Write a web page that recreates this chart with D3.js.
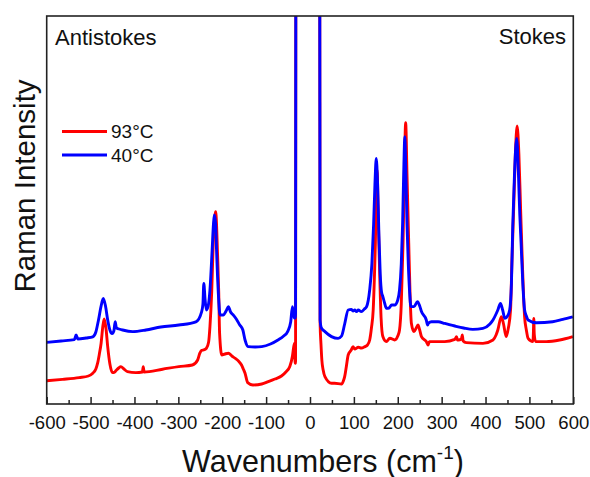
<!DOCTYPE html>
<html>
<head>
<meta charset="utf-8">
<script src="https://cdn.jsdelivr.net/npm/d3@7"></script>
<style>
  html, body { margin: 0; padding: 0; background: #fff; }
  svg { display: block; }
  text { font-family: "Liberation Sans", Arial, sans-serif; fill: #111; }
</style>
</head>
<body>
<svg id="chart" width="590" height="477"></svg>
<script>
// ---- data (wavenumber in cm^-1, intensity in arbitrary units) ----
const seriesNames = ["93°C", "40°C"];
const seriesColors = ["#ff0000", "#0000ff"];

const redX = [-600,-564,-526,-505,-495,-488,-484,-480,-476,-472,-469,-465,-461,-456,-450,-446,-442,-436,-431,-424,-416,-397,-382,-380,-378,-336,-299,-268,-256,-251,-247,-243,-236,-231,-228,-224,-221,-218,-215,-213,-211,-208,-206,-201,-194,-186,-178,-171,-163,-156,-152,-148,-142,-130,-110,-95,-80,-65,-55,-46,-40,-37,-35,-34,-33,-32,
  22,23,25,27,30,34,49,56,72,76,79,83,87,94,98,102,110,117,125,131,136,140,144,147,149,151,153,155,157,159,162,166,174,182,193,200,204,208,212,215,218,221,225,228,231,237,242,246,250,254,265,269,272,277,307,330,334,336,338,345,347,349,356,394,417,424,428,436,441,447,452,457,460,464,468,472,476,480,484,489,493,497,508,509,510,511,514,538,569,599];
const redY = [116,123,132,140,154,175,204,250,304,390,425,380,287,200,157,158,167,180,187,175,162,157,160,187,160,174,187,195,220,254,268,270,279,310,387,560,770,900,962,900,770,560,354,245,250,254,240,229,215,195,175,154,107,95,100,112,125,140,160,187,240,287,304,204,204,2600,
  2600,405,300,220,170,137,104,104,100,115,137,190,245,270,287,275,284,280,287,295,320,380,470,650,805,1050,1170,1000,800,637,430,337,312,329,320,340,370,500,805,1150,1407,1150,805,550,404,362,380,395,370,337,312,295,312,312,312,323,337,320,320,325,345,315,307,303,320,345,370,437,400,337,380,470,700,970,1250,1390,1250,970,700,437,370,328,312,350,428,350,312,312,320,337];

const blueX = [-600,-567,-537,-533,-529,-510,-495,-488,-482,-476,-471,-466,-461,-456,-451,-447,-444,-441,-435,-427,-404,-374,-340,-299,-260,-247,-244,-242,-239,-236,-232,-228,-223,-220,-218,-215,-213,-208,-205,-198,-190,-186,-181,-175,-168,-160,-153,-148,-141,-125,-110,-90,-73,-60,-51,-44,-40,-36,-33,-32,
  22,23,26,34,49,64,72,79,87,94,98,102,106,110,117,124,129,136,141,145,148,151,154,157,160,163,166,170,174,180,186,193,200,204,208,211,214,216,218,221,224,227,230,237,245,250,254,265,268,270,277,292,307,330,350,371,394,410,417,424,428,434,439,444,450,455,459,462,466,471,475,478,481,485,489,493,497,516,553,576,599];
const blueY = [308,315,322,345,325,330,336,360,420,490,528,490,420,370,352,365,411,380,375,370,362,370,385,395,411,461,500,603,520,470,490,570,770,900,945,900,770,520,445,445,470,487,460,445,425,395,370,320,287,285,287,300,320,340,362,410,487,430,430,2600,
  2600,420,380,362,337,328,340,400,470,473,465,470,462,470,462,475,487,570,700,900,1100,1228,1100,850,650,560,537,505,478,480,495,495,520,570,700,900,1200,1336,1200,900,700,560,487,487,512,490,462,420,395,405,411,411,403,390,380,373,378,400,420,450,470,503,470,428,440,470,600,886,1150,1328,1150,950,805,600,470,440,420,406,411,423,436];

const xMajorTicks = [-600,-500,-400,-300,-200,-100,0,100,200,300,400,500,600];
const xMinorTicks = [-550,-450,-350,-250,-150,-50,50,150,250,350,450,550];

// ---- layout ----
const L = 46.7, R = 573.3, T = 16, B = 404;
const svg = d3.select("#chart");
const x = d3.scaleLinear().domain([-600, 600]).range([L, R]);
const y = d3.scaleLinear().domain([0, 1940]).range([B, T]);

svg.append("defs").append("clipPath").attr("id", "clip")
  .append("rect").attr("x", L).attr("y", T).attr("width", R - L).attr("height", B - T);

const line = d3.line().x(d => x(d[0])).y(d => y(d[1])).curve(d3.curveMonotoneX);
const series = [d3.zip(redX, redY), d3.zip(blueX, blueY)];

const plot = svg.append("g").attr("clip-path", "url(#clip)");
series.forEach((s, i) => {
  plot.append("path").datum(s)
    .attr("d", line)
    .attr("fill", "none")
    .attr("stroke", seriesColors[i])
    .attr("stroke-width", 2.9)
    .attr("stroke-linejoin", "round");
});

// ticks (inside)
const axMaj = d3.axisBottom(x).tickValues(xMajorTicks).tickSizeInner(-7).tickSizeOuter(0)
  .tickPadding(12).tickFormat(d => String(d));
const gMaj = svg.append("g").attr("transform", `translate(0,${B})`).call(axMaj);
gMaj.select(".domain").remove();
gMaj.selectAll("line").attr("stroke", "#222").attr("stroke-width", 1.5);
gMaj.selectAll("text").attr("font-size", 18.5).attr("fill", "#111")
  .style("font-family", '"Liberation Sans", Arial, sans-serif');

const axMin = d3.axisBottom(x).tickValues(xMinorTicks).tickSizeInner(-4).tickSizeOuter(0).tickFormat("");
const gMin = svg.append("g").attr("transform", `translate(0,${B})`).call(axMin);
gMin.select(".domain").remove();
gMin.selectAll("line").attr("stroke", "#222").attr("stroke-width", 1.5);

// frame
svg.append("rect").attr("x", L).attr("y", T).attr("width", R - L).attr("height", B - T)
  .attr("fill", "none").attr("stroke", "#222").attr("stroke-width", 1.6);

// corner labels
svg.append("text").attr("x", 55).attr("y", 45).attr("font-size", 22).text("Antistokes");
svg.append("text").attr("x", 566).attr("y", 44).attr("font-size", 22).attr("text-anchor", "end").text("Stokes");

// legend
seriesNames.forEach((n, i) => {
  const ly = 131.5 + i * 23.5;
  svg.append("line").attr("x1", 62).attr("x2", 107).attr("y1", ly).attr("y2", ly)
    .attr("stroke", seriesColors[i]).attr("stroke-width", 3);
  svg.append("text").attr("x", 111).attr("y", ly + 6.7).attr("font-size", 19).text(n);
});

// axis titles
svg.append("text").attr("transform", "translate(35,186) rotate(-90)")
  .attr("text-anchor", "middle").attr("font-size", 29.5).text("Raman Intensity");

const xt = svg.append("text").attr("x", 323).attr("y", 471.5).attr("text-anchor", "middle").attr("font-size", 30.5);
xt.append("tspan").text("Wavenumbers (cm");
xt.append("tspan").attr("font-size", 19).attr("dy", -12.5).text("-1");
xt.append("tspan").attr("dy", 12.5).text(")");
</script>
</body>
</html>
